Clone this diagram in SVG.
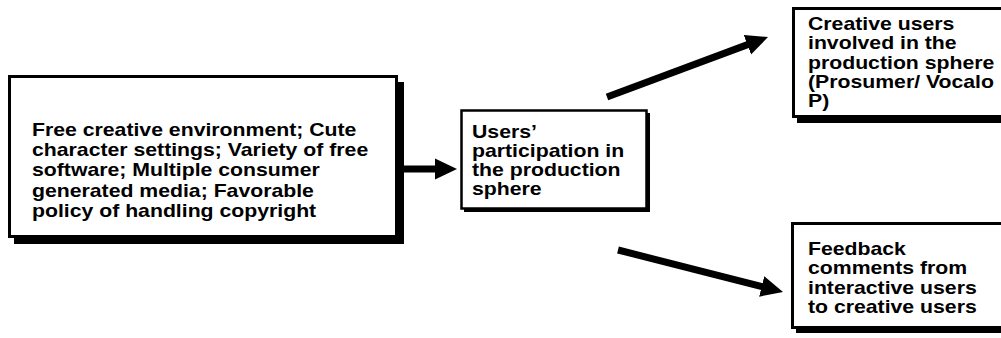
<svg xmlns="http://www.w3.org/2000/svg" width="1001" height="338" viewBox="0 0 1001 338">
<style>
.box{fill:#fff;stroke:#000;stroke-width:3}
.shadow{fill:#000}
.t{font-family:"Liberation Sans",Arial,sans-serif;font-weight:bold;font-size:18px;fill:#000}
.conn{stroke:#000;stroke-width:7;fill:none}
</style>
<defs>
<marker id="ah" markerUnits="userSpaceOnUse" markerWidth="22" markerHeight="22" refX="6" refY="10.5" orient="auto" viewBox="0 0 22 21">
<path d="M0,0 L22,10.5 L0,21 Z" fill="#000"/>
</marker>
</defs>
<rect width="1001" height="338" fill="#fff"/>
<g id="node-conditions">
<rect class="shadow" x="14" y="82" width="390" height="162"/>
<rect class="box" x="9.5" y="76.5" width="387" height="160"/>
<g transform="translate(32,0) scale(1.18,1)">
<text class="t" x="0" y="136">Free creative environment; Cute</text>
<text class="t" x="0" y="156.2">character settings; Variety of free</text>
<text class="t" x="0" y="176.4">software; Multiple consumer</text>
<text class="t" x="0" y="196.6">generated media; Favorable</text>
<text class="t" x="0" y="216.8">policy of handling copyright</text>
</g>
</g>
<g id="node-participation">
<rect class="shadow" x="464" y="113" width="186" height="99"/>
<rect class="box" x="461.5" y="110.5" width="185" height="98" style="stroke-width:2.5"/>
<g transform="translate(472,0) scale(1.18,1)">
<text class="t" x="0" y="138">Users’</text>
<text class="t" x="0" y="157">participation in</text>
<text class="t" x="0" y="176">the production</text>
<text class="t" x="0" y="195">sphere</text>
</g>
</g>
<g id="node-creative">
<rect class="shadow" x="797" y="13" width="210" height="110"/>
<rect class="box" x="793.5" y="8.5" width="215" height="108"/>
<g transform="translate(808,0) scale(1.18,1)">
<text class="t" x="0" y="30">Creative users</text>
<text class="t" x="0" y="49.5">involved in the</text>
<text class="t" x="0" y="69">production sphere</text>
<text class="t" x="0" y="88">(Prosumer/ Vocalo</text>
<text class="t" x="0" y="107.5">P)</text>
</g>
</g>
<g id="node-feedback">
<rect class="shadow" x="796" y="228" width="210" height="105"/>
<rect class="box" x="792.5" y="223.5" width="215" height="104"/>
<g transform="translate(808,0) scale(1.18,1)">
<text class="t" x="0" y="255">Feedback</text>
<text class="t" x="0" y="274.5">comments from</text>
<text class="t" x="0" y="294">interactive users</text>
<text class="t" x="0" y="313.5">to creative users</text>
</g>
</g>
<g id="connectors">
<line class="conn" x1="403" y1="169" x2="441" y2="169" marker-end="url(#ah)"/>
<line class="conn" x1="607" y1="97" x2="753" y2="42.6" marker-end="url(#ah)"/>
<line class="conn" x1="618" y1="250" x2="767.5" y2="288" marker-end="url(#ah)"/>
</g>
</svg>
